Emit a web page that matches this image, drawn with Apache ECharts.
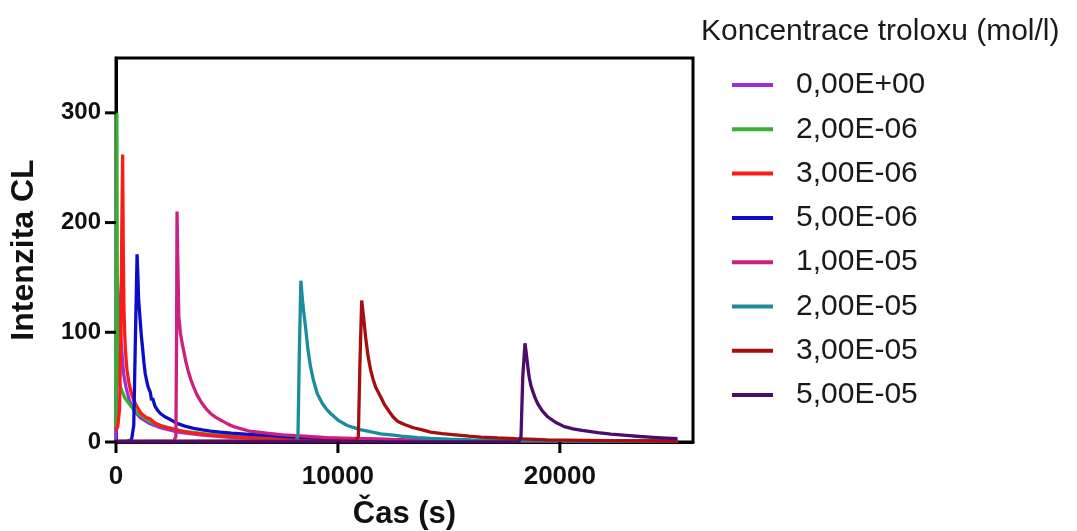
<!DOCTYPE html>
<html>
<head>
<meta charset="utf-8">
<script src="https://cdn.jsdelivr.net/npm/echarts@6/dist/echarts.min.js"></script>
<style>
  html, body { margin: 0; padding: 0; background: #fff; }
  #chart { width: 1077px; height: 531px; }
  #err { position: absolute; left: 0; top: 0; font: 12px monospace; color: #c00; }
</style>
</head>
<body>
<div id="chart"></div>
<div id="err"></div>
<script>
// legend labels (troloxu concentration, mol/l)
const seriesNames = ["0,00E+00", "2,00E-06", "3,00E-06", "5,00E-06", "1,00E-05", "2,00E-05", "3,00E-05", "5,00E-05"];
const seriesColors = ["#9b30d9", "#35b035", "#ff1a1a", "#0d0dc8", "#cc1f7f", "#1a8c9c", "#a50f0f", "#4b0c6b"];

const xTicks = [0, 10000, 20000];
const yTicks = [0, 100, 200, 300];

// [time s, intensity]
const c0 = [[0, 2], [20, 40], [50, 150], [100, 135], [160, 114], [250, 85], [345, 62], [450, 50], [600, 38], [800, 29], [1100, 22], [1500, 17], [2000, 13], [2800, 9], [3800, 6.5], [5000, 4.5], [6500, 3], [9000, 2], [13000, 1.2], [18000, 0.8], [25300, 0.5]];
const c1 = [[0, 14], [25, 150], [40, 300], [55, 160], [90, 60], [200, 50], [400, 40], [700, 32], [1000, 26], [1500, 19], [2000, 15], [3000, 10], [4200, 7], [5500, 5], [7000, 3.5], [9500, 2.2], [13000, 1.4], [18000, 0.9], [25300, 0.5]];
const c2 = [[0, 11], [80, 14], [160, 30], [220, 100], [260, 190], [300, 262], [330, 170], [360, 120], [390, 100], [420, 85], [460, 74], [500, 65], [550, 58], [600, 52], [700, 44], [800, 38], [950, 32], [1100, 27], [1250, 24], [1400, 22], [1550, 21], [1700, 18], [1850, 16.5], [2000, 15], [2300, 13], [2700, 11], [3100, 9.3], [3500, 8], [4300, 6], [5500, 4.5], [6500, 3.5], [8500, 2.5], [11000, 1.5], [15000, 1], [20000, 0.7], [25300, 0.5]];
const c3 = [[0, 0.5], [500, 0.8], [700, 2], [800, 15], [870, 90], [950, 171], [980, 155], [1020, 130], [1100, 108], [1150, 95], [1200, 85], [1260, 72], [1320, 62], [1400, 54], [1450, 50], [1550, 45], [1600, 38], [1650, 40], [1750, 33], [1870, 29], [2000, 26], [2200, 23], [2400, 21], [2750, 17], [3100, 14.5], [3500, 12.5], [3900, 11], [4260, 10], [4700, 9], [5200, 8], [6000, 7], [6800, 6], [8000, 4.5], [9000, 3.6], [10000, 3], [11500, 2.5], [13000, 2], [15000, 1.5], [17000, 1.2], [21000, 0.8], [25300, 0.5]];
const c4 = [[0, 0.5], [2600, 0.8], [2700, 5], [2730, 100], [2750, 210], [2780, 170], [2830, 114], [2900, 100], [2970, 91], [3050, 83], [3150, 73], [3250, 65], [3370, 57], [3500, 50], [3650, 43], [3850, 36], [4050, 30.5], [4260, 26], [4500, 22.5], [4800, 19], [5050, 16.3], [5310, 14], [5650, 12], [6000, 10], [6400, 9], [6800, 8], [7500, 6.5], [8300, 5.5], [9500, 4], [11000, 3], [13000, 2], [16000, 1.5], [20000, 1], [25300, 0.7]];
const c5 = [[0, 0.5], [8100, 1], [8200, 5], [8260, 80], [8330, 147], [8400, 130], [8450, 120], [8540, 105], [8650, 84], [8770, 68], [8900, 56], [9070, 44], [9300, 35], [9500, 29.5], [9670, 26], [10000, 20], [10420, 15], [11000, 11.3], [11500, 9.2], [11930, 7.5], [12500, 6.2], [13000, 5], [13600, 4], [14180, 3.2], [15000, 2.6], [16000, 2], [19000, 1.2], [22000, 0.8], [25300, 0.5]];
const c6 = [[0, 0.5], [10800, 1], [10920, 5], [10990, 70], [11070, 129], [11150, 115], [11250, 95], [11360, 78], [11480, 65], [11600, 56], [11700, 50], [11930, 41], [12100, 34], [12300, 28], [12480, 23], [12680, 19], [13000, 16], [13400, 13], [13800, 11], [14180, 9], [14700, 7.6], [15300, 6.5], [15900, 5.4], [16440, 4.5], [17200, 3.7], [18000, 3], [19450, 2], [22000, 1.2], [25300, 0.7]];
const c7 = [[0, 0], [18150, 0.3], [18250, 5], [18330, 60], [18430, 90], [18480, 82], [18520, 75], [18570, 66], [18620, 59], [18700, 51], [18800, 45], [18900, 39.5], [19000, 35], [19200, 28.5], [19450, 23], [19800, 18], [20200, 14], [20600, 12], [21000, 10.5], [21710, 8.5], [22300, 7.2], [23000, 6], [23600, 5], [24200, 4.3], [24800, 3.6], [25300, 3]];

const curves = [c0, c1, c2, c3, c4, c5, c6, c7];

const chart = echarts.init(document.getElementById("chart"));
const font = "'Liberation Sans', Arial, sans-serif";
const tickLen = 11;

const option = {
  animation: false,
  color: seriesColors,
  title: {
    text: "Koncentrace troloxu (mol/l)",
    left: 696,
    top: 12,
    textStyle: { fontFamily: font, fontSize: 30, fontWeight: "normal", color: "#1a1a1a" },
  },
  legend: {
    orient: "vertical",
    left: 727,
    top: 65,
    itemWidth: 41,
    itemHeight: 4,
    itemGap: 14.3,
    icon: "rect",
    data: seriesNames,
    textStyle: { fontFamily: font, fontSize: 30, color: "#1a1a1a", padding: [0, 0, 0, 18] },
  },
  grid: {
    left: 116,
    right: 384,
    top: 58,
    bottom: 89,
    outerBoundsMode: "none",
    show: true,
    borderColor: "#000",
    borderWidth: 3,
  },
  xAxis: {
    type: "value",
    min: 0,
    max: 26000,
    interval: 10000,
    name: "Čas (s)",
    nameLocation: "middle",
    nameGap: 57,
    nameTextStyle: { fontFamily: font, fontSize: 31, fontWeight: "bold", color: "#111" },
    axisLine: { lineStyle: { color: "#000", width: 3 } },
    axisTick: { show: false }, // drawn below, only at xTicks
    axisLabel: {
      margin: 22,
      formatter: (v) => (xTicks.includes(v) ? String(v) : ""),
      fontFamily: font,
      fontSize: 26,
      fontWeight: "bold",
      color: "#111",
    },
    splitLine: { show: false },
  },
  yAxis: {
    type: "value",
    min: 0,
    max: 350,
    interval: 100,
    name: "Intenzita CL",
    nameLocation: "middle",
    nameGap: 76,
    nameTextStyle: { fontFamily: font, fontSize: 32, fontWeight: "bold", color: "#111" },
    axisLine: { lineStyle: { color: "#000", width: 3 } },
    axisTick: { show: false },
    axisLabel: {
      margin: 15,
      formatter: (v) => (yTicks.includes(v) ? String(v) : ""),
      fontFamily: font,
      fontSize: 24,
      fontWeight: "bold",
      color: "#111",
    },
    splitLine: { show: false },
  },
  series: curves.map((d, i) => ({
    name: seriesNames[i],
    type: "line",
    data: d,
    showSymbol: false,
    symbol: "none",
    lineStyle: { width: 3.3, color: seriesColors[i] },
    itemStyle: { color: seriesColors[i] },
  })),
};

try {
  chart.setOption(option);
} catch (e) {
  document.getElementById("err").textContent = "setOption: " + e.message;
}

// tick marks at the labelled values, placed through the chart's own scales
try {
  const tickMarks = [];
  xTicks.forEach((v) => {
    const p = chart.convertToPixel({ xAxisIndex: 0, yAxisIndex: 0 }, [v, 0]);
    tickMarks.push({ type: "line", z: 100, shape: { x1: p[0], y1: p[1], x2: p[0], y2: p[1] + tickLen }, style: { stroke: "#000", lineWidth: 3 } });
  });
  yTicks.forEach((v) => {
    const p = chart.convertToPixel({ xAxisIndex: 0, yAxisIndex: 0 }, [0, v]);
    tickMarks.push({ type: "line", z: 100, shape: { x1: p[0] - tickLen, y1: p[1], x2: p[0], y2: p[1] }, style: { stroke: "#000", lineWidth: 3 } });
  });
  chart.setOption({ graphic: tickMarks });
} catch (e) {
  document.getElementById("err").textContent += " ticks: " + e.message;
}

window.addEventListener("resize", () => {
  chart.resize();
});
</script>
</body>
</html>
